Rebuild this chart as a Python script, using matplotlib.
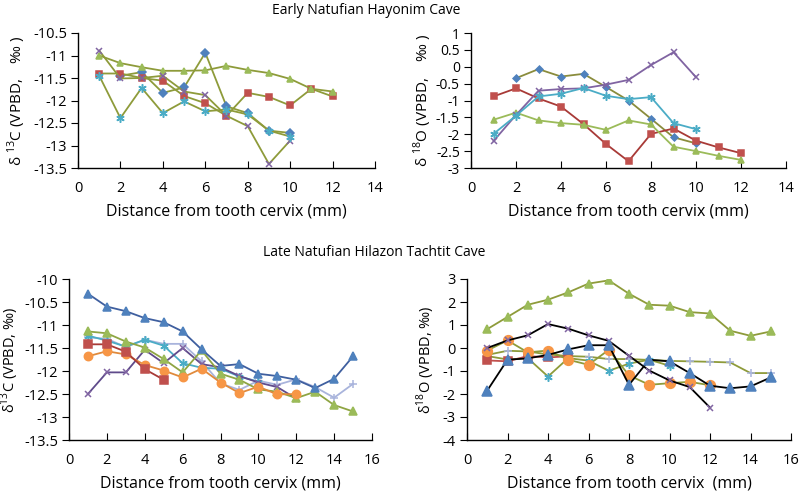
import numpy as np
import matplotlib
matplotlib.use('Agg')
import matplotlib.pyplot as plt
from matplotlib.ticker import FuncFormatter

plt.rcParams['font.family'] = ['Open Sans', 'DejaVu Sans']
plt.rcParams['axes.unicode_minus'] = False
plt.rcParams['mathtext.fontset'] = 'custom'
plt.rcParams['mathtext.rm'] = 'Open Sans'

# Early Natufian, Hayonim Cave -- d13C
early_c13_diamond = [-11.45, -11.37, -11.83, -11.71, -10.94, -12.13, -12.28, -12.67, -12.72]   # x = 2..10
early_c13_square = [-11.40, -11.40, -11.50, -11.56, -11.90, -12.06, -12.34, -11.83, -11.92, -12.11, -11.74, -11.91]
early_c13_triangle = [-11.00, -11.17, -11.26, -11.34, -11.34, -11.33, -11.23, -11.32, -11.39, -11.52, -11.74, -11.80]
early_c13_cross = [-10.89, -11.51, -11.50, -11.45, -11.80, -11.88, -12.34, -12.57, -13.41, -12.89]
early_c13_star = [-11.45, -12.39, -11.72, -12.28, -12.02, -12.24, -12.20, -12.31, -12.67, -12.80]

# Early Natufian, Hayonim Cave -- d18O
early_o18_diamond = [-0.34, -0.07, -0.29, -0.21, -0.60, -1.00, -1.54, -2.09, -2.27]   # x = 2..10
early_o18_square = [-0.88, -0.64, -0.94, -1.18, -1.70, -2.29, -2.80, -1.99, -1.83, -2.19, -2.39, -2.56]
early_o18_triangle = [-1.57, -1.36, -1.59, -1.67, -1.72, -1.87, -1.59, -1.71, -2.37, -2.50, -2.64, -2.76]
early_o18_cross = [-2.20, -1.43, -0.71, -0.66, -0.64, -0.53, -0.39, 0.05, 0.43, -0.31]
early_o18_star = [-1.99, -1.45, -0.88, -0.80, -0.63, -0.86, -0.96, -0.90, -1.67, -1.85]

# Late Natufian, Hilazon Tachtit Cave -- d13C
late_c13_bluetri = [-10.32, -10.60, -10.70, -10.85, -10.94, -11.14, -11.53, -11.89, -11.85, -12.06, -12.11, -12.19, -12.37, -12.17, -11.68]
late_c13_square = [-11.42, -11.42, -11.58, -11.96, -12.19]
late_c13_circle = [-11.68, -11.57, -11.64, -11.87, -11.99, -12.14, -11.95, -12.25, -12.48, -12.34, -12.51, -12.50]
late_c13_greentri = [-11.14, -11.18, -11.36, -11.49, -11.74, -12.03, -11.55, -12.06, -12.19, -12.40, -12.45, -12.59, -12.45, -12.74, -12.88]
late_c13_star = [-11.23, -11.34, -11.47, -11.32, -11.45, -11.83, -11.93, -11.95, -12.12, -12.23]
late_c13_cross = [-12.50, -12.03, -12.03, -11.54, -11.83, -11.50, -11.85, -11.92, -12.11, -12.25, -12.35, -12.60]
late_c13_plus = [-11.27, -11.30, -11.48, -11.32, -11.41, -11.41, -11.79, -12.27, -12.41, -12.21, -12.30, -12.18, -12.35, -12.58, -12.28]

# Late Natufian, Hilazon Tachtit Cave -- d18O
late_o18_greentri = [0.82, 1.35, 1.88, 2.10, 2.42, 2.80, 2.94, 2.36, 1.88, 1.84, 1.56, 1.50, 0.75, 0.53, 0.72]
late_o18_cross = [0.00, 0.33, 0.55, 1.04, 0.84, 0.55, 0.31, -0.34, -0.98, -1.41, -1.70, -2.59]
late_o18_bluetri = [-1.85, -0.51, -0.45, -0.30, -0.06, 0.12, 0.12, -1.60, -0.51, -0.58, -1.09, -1.64, -1.75, -1.67, -1.28]
late_o18_circle = [-0.11, 0.33, -0.19, -0.11, -0.51, -0.73, -0.08, -1.19, -1.60, -1.53, -1.47, -1.62]
late_o18_square = [-0.54, -0.58, -0.35, -0.41, -0.36]
late_o18_star = [-0.35, -0.50, -0.44, -1.24, -0.44, -0.55, -0.99, -0.68, -0.51, -0.77]
late_o18_plus = [-0.30, -0.12, -0.15, -0.28, -0.35, -0.38, -0.48, -0.48, -0.52, -0.56, -0.58, -0.60, -0.63, -1.09, -1.09]

BLUE = '#4F81BD'
RED = '#C0504D'
GREEN = '#9BBB59'
PURPLE = '#8064A2'
AQUA = '#4BACC6'
ORANGE = '#F79646'
LAV = '#A9B4DC'
OLIVE = '#8E9B3A'
STAR = (6, 2, 0)


def xs(vals, start=1):
    return np.arange(start, start + len(vals))


def series(ax, vals, line, marker, mfc, ms=5, start=1, lw=1.3):
    ax.plot(xs(vals, start), vals, color=line, lw=lw, marker=marker, ms=ms,
            mfc=mfc, mec=mfc, mew=1.1)


def style(ax, xmax, ymin, ymax, ystep, ylabel, xlabel, ylabel_x, ylabel_size=11, ytick_size=10.5):
    ax.set_xlim(0, xmax)
    ax.set_ylim(ymin, ymax)
    ax.set_xticks(np.arange(0, xmax + 1, 2))
    ax.set_yticks(np.arange(ymin, ymax + ystep / 2, ystep))
    ax.yaxis.set_major_formatter(FuncFormatter(lambda v, p: f'{v:g}'))
    ax.xaxis.set_major_formatter(FuncFormatter(lambda v, p: f'{v:g}'))
    for s in ['top', 'right']:
        ax.spines[s].set_visible(False)
    for s in ['left', 'bottom']:
        ax.spines[s].set_color('black')
        ax.spines[s].set_linewidth(1.0)
    ax.tick_params(axis='x', direction='in', length=5, pad=9, labelsize=10.5)
    ax.tick_params(axis='y', direction='out', length=5, pad=3, labelsize=ytick_size)
    ax.set_xlabel(xlabel, fontsize=11.5, labelpad=6)
    ax.set_ylabel(ylabel, fontsize=ylabel_size)
    ax.yaxis.set_label_coords(ylabel_x, 0.5)


fig = plt.figure(figsize=(8.02, 4.92), dpi=100)
W, H = 802, 492


def add_axes(l, r, t, b):
    return fig.add_axes([l / W, 1 - b / H, (r - l) / W, (b - t) / H])


ax1 = add_axes(78, 375, 33, 168)
ax2 = add_axes(471, 786, 33, 168)
ax3 = add_axes(69, 372, 279, 440)
ax4 = add_axes(467, 791, 279, 440)

# top-left
series(ax1, early_c13_diamond, OLIVE, 'D', BLUE, ms=4, start=2)
series(ax1, early_c13_square, OLIVE, 's', RED, ms=5)
series(ax1, early_c13_triangle, OLIVE, '^', GREEN, ms=5)
series(ax1, early_c13_cross, OLIVE, 'x', PURPLE, ms=5)
series(ax1, early_c13_star, OLIVE, STAR, AQUA, ms=6)
style(ax1, 14, -13.5, -10.5, 0.5, 'δ $^{13}$C (VPBD,    ‰ )',
      'Distance from tooth cervix (mm)', -0.168)

# top-right
series(ax2, early_o18_diamond, '#8A8C3C', 'D', BLUE, ms=3.5, start=2)
series(ax2, early_o18_square, '#A83A37', 's', RED, ms=5)
series(ax2, early_o18_triangle, GREEN, '^', GREEN, ms=5)
series(ax2, early_o18_cross, PURPLE, 'x', PURPLE, ms=5)
series(ax2, early_o18_star, AQUA, STAR, AQUA, ms=6)
style(ax2, 14, -3, 1, 0.5, 'δ $^{18}$O (VPBD,    ‰ )',
      'Distance from tooth cervix (mm)', -0.118, ytick_size=10)

# bottom-left
series(ax3, late_c13_plus, LAV, '+', LAV, ms=6)
series(ax3, late_c13_star, AQUA, STAR, AQUA, ms=6)
series(ax3, late_c13_cross, '#5F4B8B', 'x', PURPLE, ms=5)
series(ax3, late_c13_greentri, '#8FA543', '^', GREEN, ms=6)
series(ax3, late_c13_circle, '#E08A3C', 'o', ORANGE, ms=6)
series(ax3, late_c13_square, '#A83A37', 's', RED, ms=6)
series(ax3, late_c13_bluetri, '#3F5F9F', '^', BLUE, ms=6)
style(ax3, 16, -13.5, -10, 0.5, 'δ$^{13}$C (VPBD, ‰)',
      'Distance from tooth cervix (mm)', -0.158, ylabel_size=10.5)

# bottom-right
series(ax4, late_o18_greentri, OLIVE, '^', GREEN, ms=6)
series(ax4, late_o18_plus, OLIVE, '+', LAV, ms=6)
series(ax4, late_o18_star, OLIVE, STAR, AQUA, ms=6)
series(ax4, late_o18_square, RED, 's', RED, ms=6)
series(ax4, late_o18_circle, OLIVE, 'o', ORANGE, ms=7)
series(ax4, late_o18_cross, 'black', 'x', PURPLE, ms=5)
series(ax4, late_o18_bluetri, 'black', '^', BLUE, ms=7)
style(ax4, 16, -4, 3, 1, 'δ$^{18}$O (VPBD, ‰)',
      'Distance from tooth cervix  (mm)', -0.093, ylabel_size=10.5)

fig.text(366 / W, 1 - 10 / H, 'Early Natufian Hayonim Cave', ha='center', va='center', fontsize=10)
fig.text(374 / W, 1 - 252 / H, 'Late Natufian Hilazon Tachtit Cave', ha='center', va='center', fontsize=10)

fig.savefig('out.png', dpi=100)
